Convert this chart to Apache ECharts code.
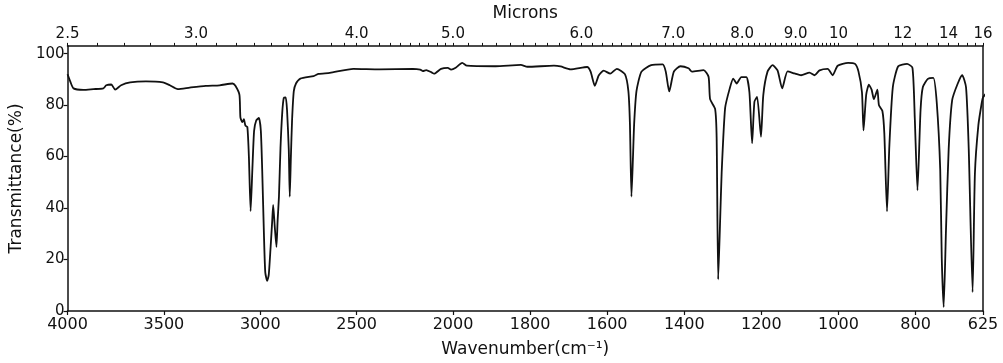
<!DOCTYPE html>
<html>
<head>
<meta charset="utf-8">
<title>IR spectrum</title>
<script src="https://cdn.jsdelivr.net/npm/echarts@6.0.0/dist/echarts.min.js"></script>
<style>
    html, body { margin: 0; padding: 0; background: #fff; }
    #ir-chart { width: 1003px; height: 363px; }
</style>
</head>
<body>
<div id="ir-chart"></div>
<script>
//光谱数据：波数(cm-1) 与 透过率(%)
var wavenumber = [
    4000, 3995, 3985, 3969, 3918, 3866, 3814, 3799, 3773, 3753, 3722, 3675, 3593, 3505, 3469, 3428,
    3366, 3283, 3211, 3144, 3129, 3108, 3103, 3093, 3085, 3077, 3067, 3059, 3050, 3041, 3032, 3021,
    3007, 2997, 2990, 2981, 2974, 2964, 2956, 2947, 2938, 2933, 2925, 2916, 2910, 2903, 2895, 2886,
    2878, 2868, 2861, 2852, 2847, 2841, 2835, 2826, 2814, 2792, 2723, 2697, 2639, 2517, 2381, 2208,
    2170, 2156, 2139, 2113, 2098, 2062, 2027, 2010, 1993, 1976, 1964, 1890, 1824, 1807, 1738, 1721,
    1695, 1652, 1643, 1632, 1622, 1609, 1592, 1575, 1554, 1545, 1541, 1537, 1533, 1530, 1524, 1511,
    1486, 1456, 1448, 1439, 1427, 1410, 1389, 1380, 1350, 1337, 1333, 1320, 1316, 1312, 1307, 1303,
    1294, 1282, 1273, 1264, 1252, 1239, 1231, 1224, 1218, 1211, 1201, 1195, 1184, 1171, 1158, 1146,
    1132, 1114, 1097, 1075, 1062, 1049, 1028, 1015, 1002, 975, 957, 948, 939, 935, 928, 921,
    914, 908, 899, 895, 886, 881, 874, 868, 859, 845, 822, 808, 802, 795, 787, 781,
    768, 754, 745, 736, 732, 727, 721, 714, 705, 691, 679, 669, 662, 652, 646, 637,
    628, 625, 610
];
var transmittance = [
    92, 91, 89, 86.5, 85.9, 86.2, 86.5, 87.7, 88, 86, 87.7, 88.8, 89.2, 88.8, 87.7, 86.2,
    86.8, 87.5, 87.7, 88.4, 87.5, 84, 75.2, 73.4, 74.5, 72, 71.5, 60, 38.8, 55, 70, 74,
    75, 70, 55, 30, 15, 11.7, 14, 24, 35, 41.2, 33, 24.9, 35, 44.5, 63.4, 77,
    82.8, 83, 78, 62.6, 44.4, 60, 74, 85.4, 88.5, 90.3, 91.3, 92.1, 92.5, 94.1, 93.9, 94.1,
    93.8, 93.2, 93.6, 92.8, 92.2, 94.1, 94.5, 93.8, 94.5, 96.4, 95.3, 95.1, 95.6, 94.9, 95.3, 95,
    93.9, 94.8, 93, 87.5, 91.5, 93.4, 92.2, 94.1, 92, 85.4, 72.8, 44.4, 60, 72.8, 85.4, 93,
    95.5, 95.8, 93, 85.3, 93, 95.1, 94.3, 93, 93.6, 91, 82.3, 78.5, 67.2, 12.3, 35, 53.7,
    78.9, 86.5, 90.3, 88.4, 90.9, 90.9, 85, 65.2, 81.3, 83.2, 67.7, 83.9, 93, 95.5, 93.5, 86.5,
    93.1, 92.3, 91.6, 92.6, 91.6, 93.5, 94.1, 91.6, 95.3, 96.4, 96, 93, 85, 70.2, 84.1, 87.9,
    86, 82.3, 86, 80, 77.7, 69, 38.7, 63.9, 86.9, 95.1, 96, 94.5, 75, 46.9, 78.1, 87,
    90.2, 90.6, 81, 55, 20.5, 1.5, 31.6, 63.1, 81.9, 88.2, 91.6, 86.9, 62.9, 7.3, 53.3, 72.2,
    81.1, 83, 85.7
];

//刻度标签
var waveTicks = [4000, 3500, 3000, 2500, 2000, 1800, 1600, 1400, 1200, 1000, 800, 625];
var micronTicks = [2.5, 3.0, 4.0, 5.0, 6.0, 7.0, 8.0, 9.0, 10, 12, 14, 16];
var transTicks = [0, 20, 40, 60, 80, 100];

//横轴换算：2000以上一段，2000以下比例放大一倍
function toAxis(nu) {
    return nu >= 2000 ? 4000 - nu : 2000 + (2000 - nu) * 2;
}
function fromAxis(u) {
    return u <= 2000 ? 4000 - u : 2000 - (u - 2000) / 2;
}
var axisMax = toAxis(625);

//数据点
var points = [];
for (var i = 0; i < wavenumber.length; i++) {
    points.push([toAxis(wavenumber[i]), transmittance[i]]);
}

//上方微米刻度
var micronLabelPos = micronTicks.map(function (m) { return toAxis(10000 / m); });
var micronMinor = [];
for (var m = 25; m <= 100; m++) {
    micronMinor.push(toAxis(10000 / (m / 10)));
}
for (var m2 = 10.5; m2 <= 16; m2 += 0.5) {
    micronMinor.push(toAxis(10000 / m2));
}

var ink = "#111";
var font = "DejaVu Sans";

var irChart = echarts.init(document.getElementById("ir-chart"), null, { renderer: "canvas" });

var option = {
    animation: false,
    backgroundColor: "#fff",
    grid: {
        left: 64,
        right: 20,
        top: 43,
        bottom: 47
    },
    xAxis: [
        {
            type: "value",
            position: "bottom",
            min: 0,
            max: axisMax,
            name: "Wavenumber(cm\u207B\u00B9)",
            nameLocation: "middle",
            nameGap: 30,
            nameTextStyle: { color: ink, fontFamily: font, fontSize: 17 },
            axisLine: { onZero: false, lineStyle: { color: ink, width: 1.5 } },
            axisTick: {
                show: true,
                length: 4,
                customValues: waveTicks.map(toAxis),
                lineStyle: { color: ink, width: 1.2 }
            },
            axisLabel: {
                customValues: waveTicks.map(toAxis),
                margin: 6,
                color: ink,
                fontFamily: font,
                fontSize: 16,
                formatter: function (v) {
                    return String(Math.round(fromAxis(v)));
                }
            },
            splitLine: { show: false }
        },
        {
            type: "value",
            position: "top",
            min: 0,
            max: axisMax,
            name: "Microns",
            nameLocation: "middle",
            nameGap: 22,
            nameTextStyle: { color: ink, fontFamily: font, fontSize: 17 },
            axisLine: { onZero: false, lineStyle: { color: ink, width: 1.5 } },
            axisTick: {
                show: true,
                length: 3,
                customValues: micronMinor,
                lineStyle: { color: ink, width: 1 }
            },
            axisLabel: {
                customValues: micronLabelPos,
                margin: 4,
                color: ink,
                fontFamily: font,
                fontSize: 15,
                formatter: function (v) {
                    var mu = 10000 / fromAxis(v);
                    return mu < 9.95 ? mu.toFixed(1) : String(Math.round(mu));
                }
            },
            splitLine: { show: false }
        }
    ],
    yAxis: [
        {
            type: "value",
            min: 0,
            max: 103,
            name: "Transmittance(%)",
            nameLocation: "middle",
            nameGap: 40,
            nameTextStyle: { color: ink, fontFamily: font, fontSize: 17 },
            axisLine: { show: true, onZero: false, lineStyle: { color: ink, width: 1.5 } },
            axisTick: {
                show: true,
                length: 4,
                customValues: transTicks,
                lineStyle: { color: ink, width: 1.2 }
            },
            axisLabel: {
                customValues: transTicks,
                margin: 3,
                color: ink,
                fontFamily: font,
                fontSize: 15
            },
            splitLine: { show: false }
        },
        {
            type: "value",
            position: "right",
            min: 0,
            max: 103,
            axisLine: { show: true, onZero: false, lineStyle: { color: ink, width: 1.5 } },
            axisTick: { show: false },
            axisLabel: { show: false },
            splitLine: { show: false }
        }
    ],
    series: [
        {
            name: "Transmittance",
            type: "line",
            xAxisIndex: 0,
            yAxisIndex: 0,
            data: points,
            showSymbol: false,
            smooth: 0.2,
            clip: false,
            lineStyle: { color: ink, width: 1.8 }
        }
    ]
};

irChart.setOption(option);
</script>
</body>
</html>
